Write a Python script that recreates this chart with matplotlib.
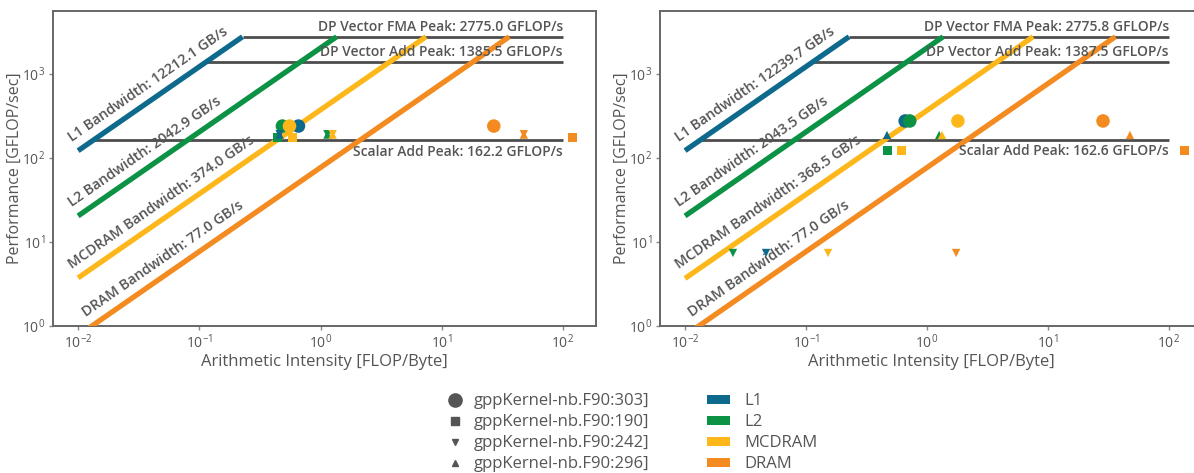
import numpy as np
import matplotlib
matplotlib.use("Agg")
import matplotlib.pyplot as plt
from matplotlib.lines import Line2D
from matplotlib.patches import Patch

plt.rcParams['font.family'] = ['Open Sans', 'DejaVu Sans']
plt.rcParams['mathtext.default'] = 'regular'

# memory levels and colours
levels = ['L1', 'L2', 'MCDRAM', 'DRAM']
level_colors = ['#0e6a8c', '#0b9245', '#fdb71b', '#f38b21']

# kernels (marker legend)
kernels = ['gppKernel-nb.F90:303]', 'gppKernel-nb.F90:190]',
           'gppKernel-nb.F90:242]', 'gppKernel-nb.F90:296]']
kernel_markers = ['o', 's', 'v', '^']

# left panel
left_bw = [12212.1, 2042.9, 374.0, 77.0]
left_fma = 2775.0
left_add = 1385.5
left_scalar = 162.2
# AI per level for each kernel, then GFLOP/s
left_ai = [
    [0.658, 0.485, 0.555, 26.9],
    [0.44, 0.44, 0.59, 121.0],
    [0.46, 1.14, 1.26, 47.6],
    [0.46, 1.14, 1.26, 47.6],
]
left_perf = [
    [240, 240, 240, 240],
    [176, 176, 176, 176],
    [192, 192, 192, 192],
    [190, 190, 190, 190],
]

# right panel
right_bw = [12239.7, 2043.5, 368.5, 77.0]
right_fma = 2775.8
right_add = 1387.5
right_scalar = 162.6
right_ai = [
    [0.66, 0.72, 1.80, 28.5],
    [0.467, 0.467, 0.62, 135.0],
    [0.0467, 0.0249, 0.152, 1.74],
    [0.467, 1.26, 1.33, 47.6],
]
right_perf = [
    [276, 276, 276, 276],
    [124, 124, 124, 122],
    [7.4, 7.4, 7.4, 7.4],
    [188, 188, 188, 188],
]

GRAY = '#4d4d4d'
TXT = '#555555'
marker_sizes = {'o': 95, 's': 42, 'v': 36, '^': 36}


def draw_roofline(ax, bw, fma, add, scalar, ai, perf):
    ax.set_xscale('log')
    ax.set_yscale('log')
    ax.set_xlim(10 ** -2.207, 10 ** 2.273)
    ax.set_ylim(1, 10 ** 3.75)
    x0, xmax = 0.01, 100.0

    # compute ceilings
    for peak, name in [(fma, 'DP Vector FMA Peak'), (add, 'DP Vector Add Peak')]:
        ax.plot([peak / bw[0], xmax], [peak, peak], color=GRAY, lw=2.0, zorder=2,
                solid_capstyle='butt')
        ax.annotate(f'{name}: {peak:.1f} GFLOP/s', (xmax, peak), xytext=(0, 2),
                    textcoords='offset points', ha='right', va='bottom',
                    fontsize=10, fontweight='semibold', color=TXT, zorder=5)
    ax.plot([scalar / bw[0], xmax], [scalar, scalar], color=GRAY, lw=2.0, zorder=2,
            solid_capstyle='butt')
    ax.annotate(f'Scalar Add Peak: {scalar:.1f} GFLOP/s', (xmax, scalar), xytext=(0, -3),
                textcoords='offset points', ha='right', va='top',
                fontsize=10, fontweight='semibold', color=TXT, zorder=5)

    # bandwidth ceilings
    p1 = ax.transData.transform((1, 1))
    p2 = ax.transData.transform((10, 10))
    ang = np.degrees(np.arctan2(p2[1] - p1[1], p2[0] - p1[0]))
    s, c = np.sin(np.radians(ang)), np.cos(np.radians(ang))
    for b, lvl, col in zip(bw, levels, level_colors):
        xs = np.array([x0, fma / b])
        ax.plot(xs, b * xs, color=col, lw=3.8, zorder=3, solid_capstyle='butt')
        xstart = max(x0, 1.0 / b)
        off = 8
        ax.annotate(f'{lvl} Bandwidth: {b:.1f} GB/s', (xstart, b * xstart),
                    xytext=(-s * off, c * off), textcoords='offset points',
                    rotation=ang, rotation_mode='anchor', ha='left', va='baseline',
                    fontsize=10.3, fontweight='semibold', color=TXT, zorder=6)

    # kernel points
    for k, m in enumerate(kernel_markers):
        for j, col in enumerate(level_colors):
            ax.scatter(ai[k][j], perf[k][j], marker=m, s=marker_sizes[m],
                       color=col, edgecolors='none', zorder=4)

    ax.minorticks_off()
    ax.set_xticks([1e-2, 1e-1, 1e0, 1e1, 1e2])
    ax.set_yticks([1e0, 1e1, 1e2, 1e3])
    for sp in ax.spines.values():
        sp.set_color('#666666')
        sp.set_linewidth(1.4)
    ax.tick_params(axis='both', which='major', length=3, width=1, colors='#888888',
                   labelcolor=TXT, labelsize=10, pad=2.5)
    ax.set_xlabel('Arithmetic Intensity [FLOP/Byte]', fontsize=12, color=TXT, labelpad=1)
    ax.set_ylabel('Performance [GFLOP/sec]', fontsize=11.5, color=TXT)
    ax.yaxis.set_label_coords(-0.056, 0.5)


fig = plt.figure(figsize=(11.94, 4.73), dpi=100)
ax1 = fig.add_axes([53 / 1194, 1 - 326 / 473, 543 / 1194, 315 / 473])
ax2 = fig.add_axes([660 / 1194, 1 - 326 / 473, 542 / 1194, 315 / 473])

draw_roofline(ax1, left_bw, left_fma, left_add, left_scalar, left_ai, left_perf)
draw_roofline(ax2, right_bw, right_fma, right_add, right_scalar, right_ai, right_perf)

# legends
mk_handles = [Line2D([], [], marker=m, ls='none', color='#555555',
                     markersize={'o': 9.5, 's': 5.5, 'v': 5, '^': 5}[m]) for m in kernel_markers]
leg1 = fig.legend(mk_handles, kernels, loc='upper left', bbox_to_anchor=(437 / 1194, 1 - 385 / 473),
                  frameon=False, fontsize=12, labelcolor=TXT, handlelength=1.2,
                  handletextpad=0.5, labelspacing=0.3, borderpad=0)
col_handles = [Patch(facecolor=c, edgecolor='none') for c in level_colors]
leg2 = fig.legend(col_handles, levels, loc='upper left', bbox_to_anchor=(699 / 1194, 1 - 385 / 473),
                  frameon=False, fontsize=12, labelcolor=TXT, handlelength=1.35, handleheight=0.45,
                  handletextpad=0.9, labelspacing=0.3, borderpad=0)

fig.savefig('out.png', dpi=100)
